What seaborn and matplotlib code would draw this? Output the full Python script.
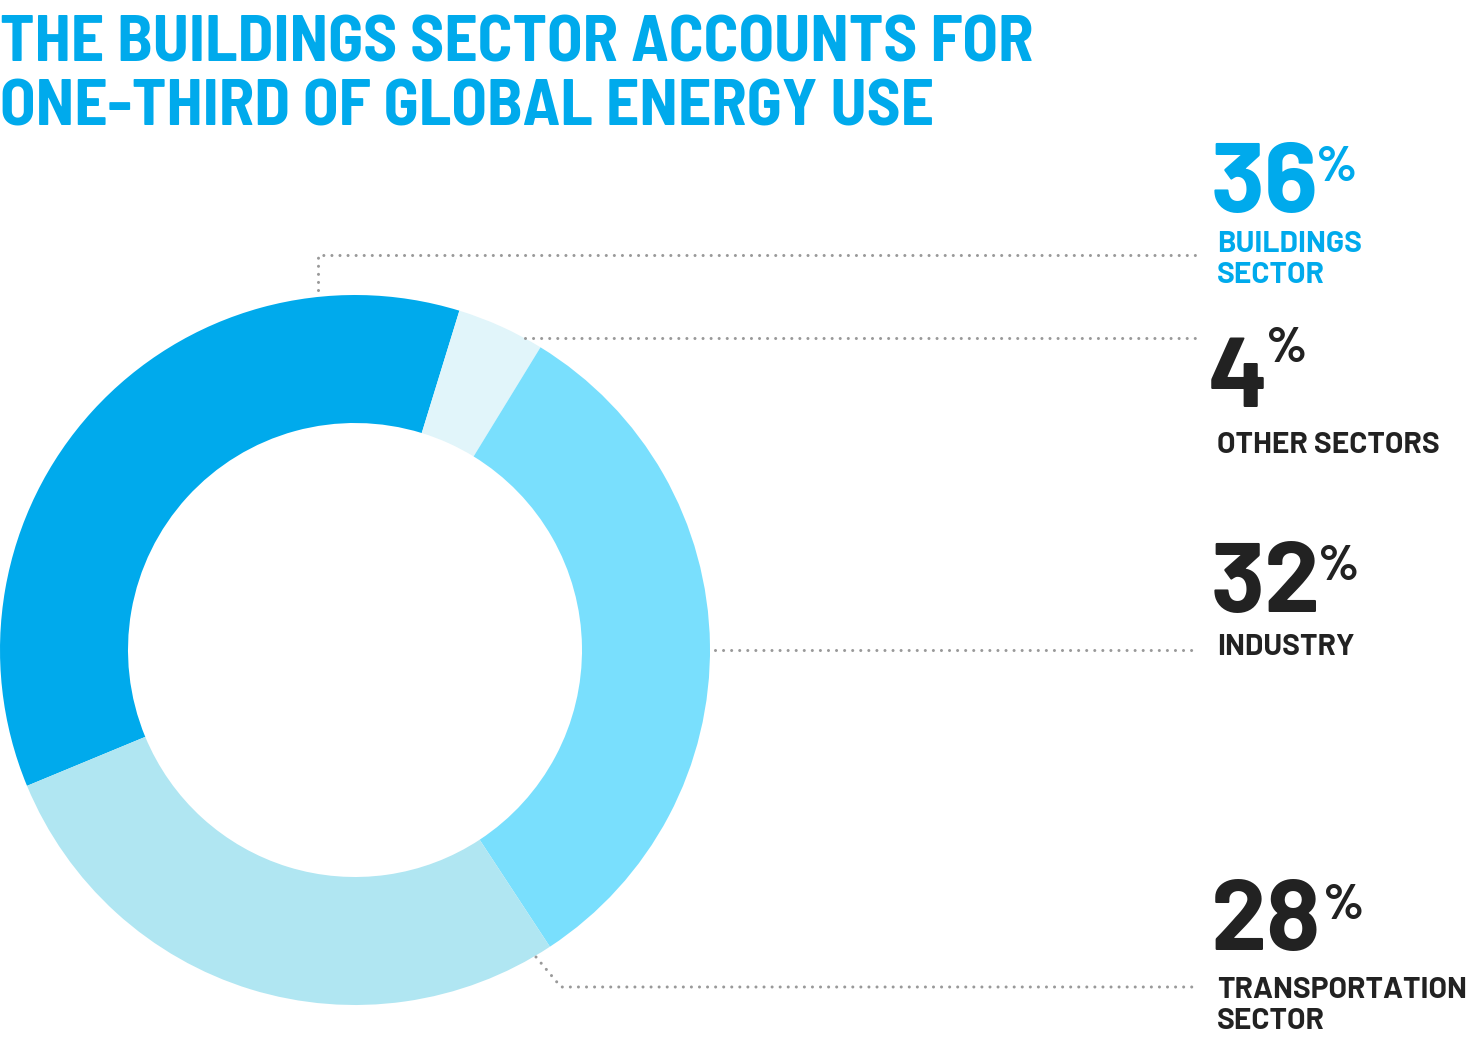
import matplotlib
matplotlib.use("Agg")
import matplotlib.pyplot as plt
import seaborn as sns

# data
sectors = ["BUILDINGS\nSECTOR", "OTHER SECTORS", "INDUSTRY", "TRANSPORTATION\nSECTOR"]
shares = [36, 4, 32, 28]
colors = ["#00AAEC", "#E1F5FA", "#79DFFD", "#B0E6F2"]
title_lines = ["THE BUILDINGS SECTOR ACCOUNTS FOR", "ONE-THIRD OF GLOBAL ENERGY USE"]

W, H = 1468, 1057
BLUE = "#00AAEC"
DARK = "#222222"
TITLE_FONT = ["Barlow Semi Condensed", "Roboto Condensed", "DejaVu Sans"]
NUM_FONT = ["Barlow", "Roboto", "DejaVu Sans"]
LAB_FONT = ["Barlow", "Roboto Condensed", "DejaVu Sans"]

sns.set_theme(style="white")
plt.rcParams["lines.scale_dashes"] = False


def py(y):
    # pixel row (top origin) -> data y
    return H - y


fig = plt.figure(figsize=(W / 100, H / 100), dpi=100)
ax = fig.add_axes([0, 0, 1, 1])

ax.pie(shares, colors=colors, startangle=202.5, counterclock=False,
       radius=355, center=(355, py(650)),
       wedgeprops=dict(width=128, linewidth=0))
ax.set_xlim(0, W)
ax.set_ylim(0, H)
ax.set_aspect("equal")
ax.axis("off")

for line, base in zip(title_lines, [62, 125]):
    ax.text(0, py(base), line, fontsize=47, fontweight="bold", color=BLUE,
            family=TITLE_FONT, va="baseline", ha="left")

# leader lines
dot = dict(color="#999999", lw=2.2, linestyle=(0, (0.01, 5.8)),
           dash_capstyle="round", solid_capstyle="round")
leaders = [
    [(318, 290), (318, 255), (1195, 255)],
    [(525, 338), (1195, 338)],
    [(715, 650), (1195, 650)],
    [(536, 957), (561, 987), (1195, 987)],
]
for pts in leaders:
    ax.plot([p[0] for p in pts], [py(p[1]) for p in pts], **dot)

# labels: (number x, number baseline, pct x, pct baseline, label baseline, color)
label_pos = [
    (1211, 212, 1316, 181, 252, BLUE),
    (1208, 407, 1266, 362, 453, DARK),
    (1211, 612, 1318, 580, 655, DARK),
    (1211, 950, 1323, 919, 998, DARK),
]
for share, name, (nx, ny, px_, pyy, ly, c) in zip(shares, sectors, label_pos):
    ax.text(nx, py(ny), str(share), fontsize=72, fontweight="bold", color=c,
            family=NUM_FONT, va="baseline", ha="left")
    ax.text(px_, py(pyy), "%", fontsize=36, fontweight="bold", color=c,
            family=NUM_FONT, va="baseline", ha="left")
    name_lines = name.split("\n")
    for k, nl in enumerate(name_lines):
        ax.text(1217, py(ly + 31 * k), nl, fontsize=21.5, fontweight="bold",
                color=c, family=LAB_FONT, va="baseline", ha="left")

fig.savefig("out.png", dpi=100)
